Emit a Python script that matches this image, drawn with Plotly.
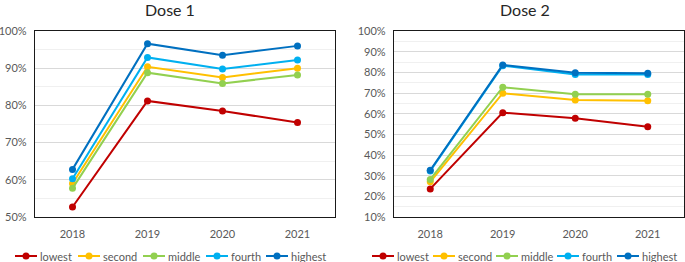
import plotly.graph_objects as go

years = ["2018", "2019", "2020", "2021"]
groups = ["lowest", "second", "middle", "fourth", "highest"]
colors = ["#C00000", "#FFC000", "#92D050", "#00B0F0", "#0070C0"]

dose1_lowest = [52.7, 81.2, 78.5, 75.4]
dose1_second = [59.0, 90.4, 87.5, 90.0]
dose1_middle = [57.7, 88.8, 85.9, 88.2]
dose1_fourth = [60.3, 92.9, 89.8, 92.2]
dose1_highest = [62.8, 96.6, 93.5, 96.0]

dose2_lowest = [23.6, 60.5, 57.8, 53.7]
dose2_second = [27.0, 69.9, 66.6, 66.3]
dose2_middle = [28.2, 72.8, 69.4, 69.4]
dose2_fourth = [32.3, 83.2, 79.0, 79.0]
dose2_highest = [32.6, 83.6, 79.8, 79.5]

dose1 = [dose1_lowest, dose1_second, dose1_middle, dose1_fourth, dose1_highest]
dose2 = [dose2_lowest, dose2_second, dose2_middle, dose2_fourth, dose2_highest]

FONT = "Lato"
TICK = dict(family=FONT, size=11, color="#595959")
W, H = 685, 262

fig = go.Figure()
for i, (g, c) in enumerate(zip(groups, colors)):
    fig.add_trace(go.Scatter(x=years, y=dose1[i], name=g, mode="lines+markers",
                             line=dict(color=c, width=2), marker=dict(color=c, size=7),
                             xaxis="x", yaxis="y", showlegend=False))
for i, (g, c) in enumerate(zip(groups, colors)):
    fig.add_trace(go.Scatter(x=years, y=dose2[i], name=g, mode="lines+markers",
                             line=dict(color=c, width=2), marker=dict(color=c, size=7),
                             xaxis="x2", yaxis="y2", showlegend=False))

def px(a, b):
    return [a / W, b / W]
def py(top, bottom):
    return [(H - bottom) / H, (H - top) / H]

axis_common = dict(showline=True, mirror=True, linecolor="#1a1a1a", linewidth=1.2,
                   tickfont=TICK, automargin=False)

# legend entries (drawn as keys + text, one row under each panel)
legend_starts = [[15, 78, 143, 206, 266], [372, 433, 496, 557, 617]]
LEG_Y = 256
shapes, annotations = [], []
for starts in legend_starts:
    for x0, g, c in zip(starts, groups, colors):
        shapes.append(dict(type="line", xref="paper", yref="paper",
                           x0=x0 / W, x1=(x0 + 22) / W, y0=(H - LEG_Y) / H, y1=(H - LEG_Y) / H,
                           line=dict(color=c, width=2)))
        shapes.append(dict(type="circle", xref="paper", yref="paper",
                           xsizemode="pixel", ysizemode="pixel",
                           xanchor=(x0 + 11) / W, yanchor=(H - LEG_Y) / H,
                           x0=-3.5, x1=3.5, y0=-3.5, y1=3.5,
                           fillcolor=c, line=dict(color=c, width=0)))
        annotations.append(dict(text=g, x=(x0 + 23) / W, y=(H - LEG_Y) / H,
                                xref="paper", yref="paper", showarrow=False,
                                xanchor="left", yanchor="middle", font=TICK))

annotations += [
    dict(text="Dose 1", x=170 / W, y=(H - 9) / H, xref="paper", yref="paper",
         showarrow=False, font=dict(family=FONT, size=16, color="#262626"),
         xanchor="center", yanchor="middle"),
    dict(text="Dose 2", x=525 / W, y=(H - 9) / H, xref="paper", yref="paper",
         showarrow=False, font=dict(family=FONT, size=16, color="#262626"),
         xanchor="center", yanchor="middle"),
]

fig.update_layout(
    width=W, height=H, margin=dict(l=0, r=0, t=0, b=0, autoexpand=False),
    paper_bgcolor="white", plot_bgcolor="white", showlegend=False,
    font=dict(family=FONT, color="#595959"),
    xaxis=dict(domain=px(35, 335), type="category", range=[-0.5, 3.5],
               showgrid=False, ticks="", ticklabelstandoff=7, anchor="y", **axis_common),
    yaxis=dict(domain=py(31, 217), range=[50, 100], dtick=10, ticksuffix="%",
               showgrid=True, gridcolor="#d9d9d9", zeroline=False, ticks="",
               ticklabelstandoff=5, anchor="x",
               minor=dict(dtick=5, showgrid=True, gridcolor="#f0f0f0"), **axis_common),
    xaxis2=dict(domain=px(394, 684), type="category", range=[-0.5, 3.5],
                showgrid=False, ticks="", ticklabelstandoff=7, anchor="y2", **axis_common),
    yaxis2=dict(domain=py(31, 217), range=[10, 100], dtick=10, ticksuffix="%",
                showgrid=True, gridcolor="#d9d9d9", zeroline=False, ticks="",
                ticklabelstandoff=5, anchor="x2",
                minor=dict(dtick=5, showgrid=True, gridcolor="#f0f0f0"), **axis_common),
    shapes=shapes,
    annotations=annotations,
)

fig.write_html("out.html", config={"displayModeBar": False},
               post_script="document.body.style.margin='0';document.body.style.overflow='hidden';")
